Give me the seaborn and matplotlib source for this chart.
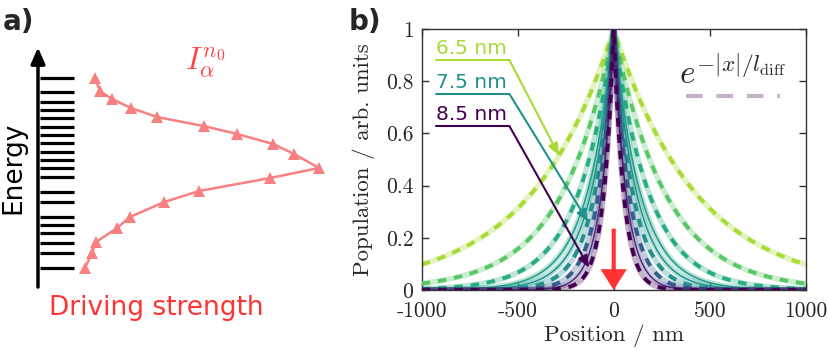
import numpy as np
import pandas as pd
import matplotlib
matplotlib.use("Agg")
import matplotlib.pyplot as plt
from matplotlib.lines import Line2D
import seaborn as sns

# ---------------- data ----------------
# panel b: decay lengths (nm) of the population profiles, broadest first
decay_lengths_nm = [430, 270, 185, 140, 120, 100, 80, 65, 52]
viridis_positions = [0.87, 0.74, 0.62, 0.56, 0.53, 0.50, 0.30, 0.15, 0.0]
is_dashed = [True, True, True, False, False, True, True, False, True]
label_names = ["6.5 nm", "7.5 nm", "8.5 nm"]
label_curve_index = [0, 5, 8]
label_tip_x = [-285, -134, -128]
label_line_y = [0.881, 0.751, 0.628]
x_ticks = [-1000, -500, 0, 500, 1000]
x_tick_labels = ["-1000", "-500", "0", "500", "1000"]
y_ticks = [0, 0.2, 0.4, 0.6, 0.8, 1.0]
y_tick_labels = ["0", "0.2", "0.4", "0.6", "0.8", "1"]

# panel a: energy levels and driving strength profile
energy_levels = [0.864, 0.809, 0.769, 0.735, 0.701, 0.667, 0.633, 0.599, 0.564,
                 0.531, 0.497, 0.462, 0.401, 0.360, 0.299, 0.265, 0.231, 0.191,
                 0.150, 0.089]
drive_energy = [0.865, 0.812, 0.780, 0.743, 0.706, 0.669, 0.637, 0.596, 0.555,
                0.498, 0.457, 0.404, 0.359, 0.298, 0.253, 0.196, 0.151, 0.090]
drive_strength = [0.195, 0.212, 0.253, 0.318, 0.408, 0.568, 0.682, 0.805, 0.877,
                  0.962, 0.795, 0.551, 0.432, 0.315, 0.271, 0.199, 0.185, 0.161]

# ---------------- style ----------------
sns.set_theme(style="ticks")
plt.rcParams["font.family"] = ["DejaVu Sans"]
plt.rcParams["mathtext.fontset"] = "cm"
plt.rcParams["axes.unicode_minus"] = False

W, H = 829, 351
fig = plt.figure(figsize=(W / 100, H / 100), dpi=100)

# ---------------- panel a ----------------
axa = fig.add_axes([38 / W, 1 - 290 / H, 292 / W, 245 / H])
axa.set_xlim(0, 1)
axa.set_ylim(0, 1)
axa.axis("off")
for e in energy_levels:
    axa.plot([0.007, 0.123], [e, e], color="black", lw=2.3, solid_capstyle="butt",
             clip_on=False)
axa.annotate("", xy=(0, 0.99), xytext=(0, 0.012), xycoords="data",
             arrowprops=dict(arrowstyle="-|>,head_width=0.35,head_length=0.8",
                             lw=2.5, color="black", shrinkA=0, shrinkB=0),
             annotation_clip=False)
df_a = pd.DataFrame({"strength": drive_strength, "energy": drive_energy})
sns.lineplot(data=df_a, x="strength", y="energy", ax=axa, sort=False,
             estimator=None, color="#f98080", lw=1.8, marker="^", markersize=8,
             markeredgewidth=0, clip_on=False)
axa.text(0.572, 0.925, r"$I_{\alpha}^{n_0}$", color="#ff4444", fontsize=23,
         ha="center", va="center")
axa.text(0.404, -0.075, "Driving strength", color="#ff3333", fontsize=19,
         ha="center", va="center")
axa.text(-0.086, 0.50, "Energy", color="black", fontsize=19, rotation=90,
         ha="center", va="center")
fig.text(3 / W, 1 - 8 / H, "a)", fontsize=20, fontweight="bold", ha="left", va="top")
fig.text(349 / W, 1 - 8 / H, "b)", fontsize=20, fontweight="bold", ha="left", va="top")

# ---------------- panel b ----------------
axb = fig.add_axes([421.7 / W, 1 - 290 / H, 384 / W, 261 / H])
x = np.linspace(-1000, 1000, 4001)
cmap = plt.get_cmap("viridis")
for i, (l, p, d) in enumerate(zip(decay_lengths_nm, viridis_positions, is_dashed)):
    col = cmap(p)
    df = pd.DataFrame({"x": x, "y": np.exp(-np.abs(x) / l)})
    sns.lineplot(data=df, x="x", y="y", ax=axb, color=col, alpha=0.3, lw=4,
                 estimator=None, zorder=2 + i)
    if d:
        sns.lineplot(data=df, x="x", y="y", ax=axb, color=col, lw=2.8,
                     estimator=None, linestyle=(0, (2.2, 2.0)), zorder=2 + i)
    else:
        sns.lineplot(data=df, x="x", y="y", ax=axb, color=col, lw=1.1,
                     estimator=None, zorder=2 + i)

axb.set_xlim(-1000, 1000)
axb.set_ylim(0, 1)
axb.set_xticks(x_ticks)
axb.set_xticklabels(x_tick_labels, family="cmr10", fontsize=15.5)
axb.set_yticks(y_ticks)
axb.set_yticklabels(y_tick_labels, family="cmr10", fontsize=15.5)
axb.tick_params(direction="in", top=True, right=True, length=5, width=1,
                color="#333333", pad=6)
axb.tick_params(axis="x", pad=8)
for s in axb.spines.values():
    s.set_color("#333333")
    s.set_linewidth(1.0)
axb.set_xlabel("Position / nm", family="cmr10", fontsize=16.5, labelpad=3)
axb.set_ylabel("Population / arb. units", family="cmr10", fontsize=16.5, labelpad=8)

# labelled annotations
for name, ci, tx, ly in zip(label_names, label_curve_index, label_tip_x, label_line_y):
    col = cmap(viridis_positions[ci])
    ty = float(np.exp(-abs(tx) / decay_lengths_nm[ci]))
    axb.plot([-928, -543], [ly, ly], color=col, lw=1.5, zorder=20)
    axb.annotate("", xy=(tx, ty), xytext=(-543, ly),
                 arrowprops=dict(arrowstyle="-|>,head_width=0.25,head_length=0.6",
                                 color=col, lw=1.5, shrinkA=0, shrinkB=0),
                 zorder=20)
    axb.text(-928, ly + 0.022, name, color=col, fontsize=14.5, ha="left",
             va="baseline", zorder=20)

# red excitation arrow
axb.annotate("", xy=(0, 0), xytext=(0, 0.235),
             arrowprops=dict(width=3, headwidth=19, headlength=15, color="#ff3333",
                             shrink=0, lw=0),
             zorder=30)

# legend-like label for the fit
lav = cmap(0.0)
axb.text(621, 0.83, r"$e^{-|x|/l_{\mathrm{diff}}}$", fontsize=24, ha="center",
         va="center", zorder=20)
axb.add_line(Line2D([376, 866], [0.743, 0.743], color=lav, alpha=0.3, lw=3,
                    linestyle=(0, (4, 3.3)), zorder=20))

fig.savefig("out.png", dpi=100)
